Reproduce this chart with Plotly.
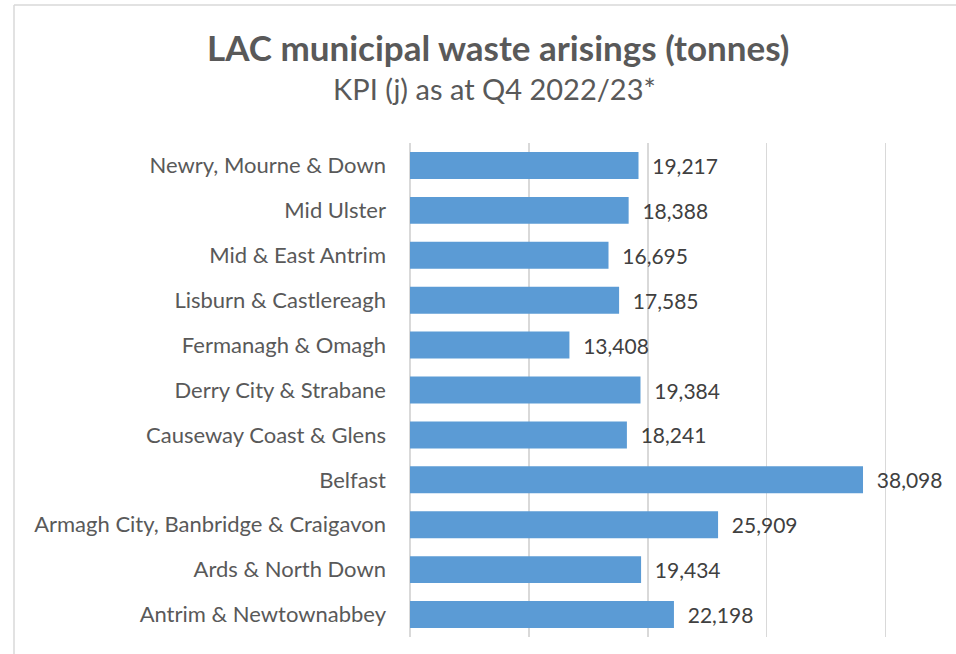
import plotly.graph_objects as go

categories = [
    "Newry, Mourne & Down",
    "Mid Ulster",
    "Mid & East Antrim",
    "Lisburn & Castlereagh",
    "Fermanagh & Omagh",
    "Derry City & Strabane",
    "Causeway Coast & Glens",
    "Belfast",
    "Armagh City, Banbridge & Craigavon",
    "Ards & North Down",
    "Antrim & Newtownabbey",
]
values = [19217, 18388, 16695, 17585, 13408, 19384, 18241, 38098, 25909, 19434, 22198]

title_text = "LAC municipal waste arisings (tonnes)"
subtitle_text = "KPI (j) as at Q4 2022/23*"

W, H = 956, 654
ML, MR, MT, MB = 410, 68, 143, 17
FONT = "Lato, Carlito, Calibri, sans-serif"

PAD = "\u00a0" * 2

fig = go.Figure(
    go.Bar(
        x=values,
        y=categories,
        orientation="h",
        marker=dict(color="#5B9BD5", line=dict(width=0)),
        texttemplate=PAD + "%{x:,}",
        textposition="outside",
        textfont=dict(family=FONT, size=21, color="#404040"),
        cliponaxis=False,
        hoverinfo="skip",
    )
)

fig.update_layout(
    width=W,
    height=H,
    paper_bgcolor="white",
    plot_bgcolor="white",
    margin=dict(l=ML, r=MR, t=MT, b=MB),
    bargap=0.4,
    showlegend=False,
    font=dict(family=FONT, color="#595959"),
)

fig.update_xaxes(
    range=[0, 40200],
    dtick=10000,
    showticklabels=False,
    showgrid=True,
    gridcolor="#D9D9D9",
    gridwidth=1.5,
    zeroline=True,
    zerolinecolor="#D9D9D9",
    zerolinewidth=1.5,
    showline=False,
    fixedrange=True,
)
fig.update_yaxes(
    autorange="reversed",
    tickfont=dict(family=FONT, size=22, color="#595959"),
    ticks="",
    ticklabelstandoff=23,
    showline=False,
    showgrid=False,
    fixedrange=True,
)

pw = W - ML - MR
ph = H - MT - MB


def px_x(px):
    return (px - ML) / pw


def px_y(py):
    return (H - MB - py) / ph


fig.add_annotation(
    text=f"<b>{title_text}</b>",
    xref="paper", yref="paper",
    x=px_x(498), y=px_y(70),
    xanchor="center", yanchor="bottom",
    showarrow=False,
    font=dict(family=FONT, size=35, color="#595959"),
)
fig.add_annotation(
    text=subtitle_text,
    xref="paper", yref="paper",
    x=px_x(494), y=px_y(108),
    xanchor="center", yanchor="bottom",
    showarrow=False,
    font=dict(family=FONT, size=29, color="#595959"),
)

# chart-area border (cropped on right and bottom)
fig.add_shape(type="line", xref="paper", yref="paper",
              x0=px_x(14), x1=px_x(14), y0=px_y(5), y1=px_y(H + 5),
              line=dict(color="#D9D9D9", width=1.5))
fig.add_shape(type="line", xref="paper", yref="paper",
              x0=px_x(14), x1=px_x(W + 5), y0=px_y(5), y1=px_y(5),
              line=dict(color="#D9D9D9", width=1.5))

fig.write_html(
    "out.html",
    config={"displayModeBar": False, "staticPlot": True},
    post_script="document.body.style.margin='0';",
)
